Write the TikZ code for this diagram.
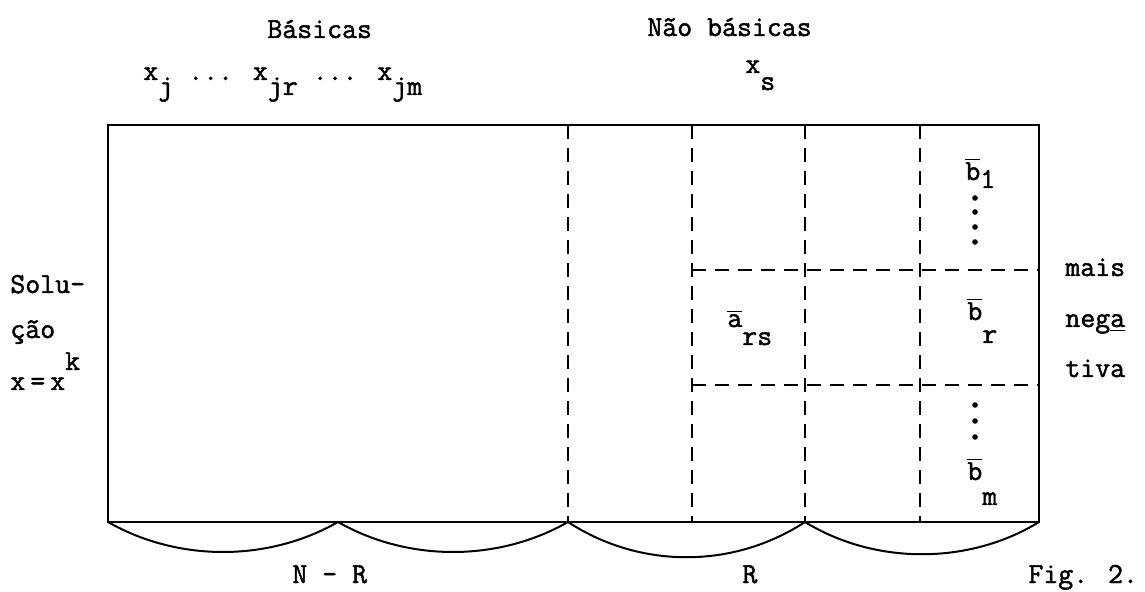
\documentclass[tikz,border=0pt]{standalone}
\usepackage{fontspec}
\newfontfamily\typew{Latin Modern Mono}[RawFeature={embolden=1.6}]
\usetikzlibrary{positioning}
\newcommand{\dn}[2][7.5pt]{\raisebox{-#1}{#2}}
\newcommand{\ov}[1]{$\overline{\mbox{#1}}$}

\begin{document}
\begin{tikzpicture}[
    x=0.5pt, y=-0.5pt,
    lbl/.style={font=\typew\fontsize{14.5}{17}\selectfont, inner sep=0pt, anchor=base west},
    frame/.style={line width=1.1pt},
    cut/.style={line width=0.9pt, dash pattern=on 7pt off 4.5pt},
    arc/.style={line width=1pt}
]
    \useasboundingbox (0,0) rectangle (1145,592);

    % Frame of the table
    \coordinate (nw) at (108,125);
    \coordinate (se) at (1039,522);
    \draw[frame] (nw) rectangle (se);

    % Dashed columns
    \foreach \c/\x in {a/568, b/692, c/805, d/920} {
        \coordinate (top\c) at (\x,125);
        \coordinate (bot\c) at (\x,522);
        \draw[cut] (top\c) -- (bot\c);
    }

    % Dashed rows
    \foreach \r/\y in {1/270, 2/385} {
        \coordinate (row\r) at (692,\y);
        \draw[cut] (row\r) -- (row\r -| se);
    }

    % Arcs under the table
    \coordinate (half) at (338,522);
    \draw[arc] (nw |- se) .. controls +(70,40) and +(-70,40) .. (half);
    \draw[arc] (half) .. controls +(70,40) and +(-70,40) .. (bota);
    \draw[arc] (bota) .. controls +(72,47) and +(-72,47) .. (botc);
    \draw[arc] (botc) .. controls +(70,43) and +(-70,43) .. (se);

    % Headings
    \node[lbl] (bas) at (267,38) {Básicas};
    \node[lbl] (nbas) at (647,36) {Não básicas};
    \node[lbl] (xb) at (143,80) {x\dn{j} ... x\dn{jr} ... x\dn{jm}};
    \node[lbl] (xs) at (745,73) {x\dn[8.5pt]{s}};

    % Solution
    \node[lbl] (sol) at (10,293) {Solu-};
    \node[lbl] (cao) at (10,338) {ção};
    \node[lbl] (xk) at (10,390) {x\kern2.5pt=\kern2.5pt x\raisebox{10pt}{k}};

    % Pivot and right-hand side
    \node[lbl] (ars) at (727,327) {\ov{a}\dn[9pt]{rs}};
    \node[lbl] (b1) at (965,180) {\ov{b}\dn[4pt]{1}};
    \node[lbl] (br) at (967,320) {\ov{b}\dn[11.5pt]{r}};
    \node[lbl] (bm) at (967,480) {\ov{b}\dn[12.5pt]{m}};
    \foreach \y in {198,212,227,242,405,421,437}
        \fill (975,\y) circle (1.4pt);

    % Most negative row
    \node[lbl] (mais) at (1065,276) {mais};
    \node[lbl] (nega) at (1065,327) {neg\underline{a}};
    \node[lbl] (tiva) at (1065,377) {tiva};

    % Bottom labels
    \node[lbl] (nr) at (292,583) {N - R};
    \node[lbl] (r) at (742,583) {R};
    \node[lbl] (fig) at (1028,583) {Fig. 2.};
\end{tikzpicture}
\end{document}
